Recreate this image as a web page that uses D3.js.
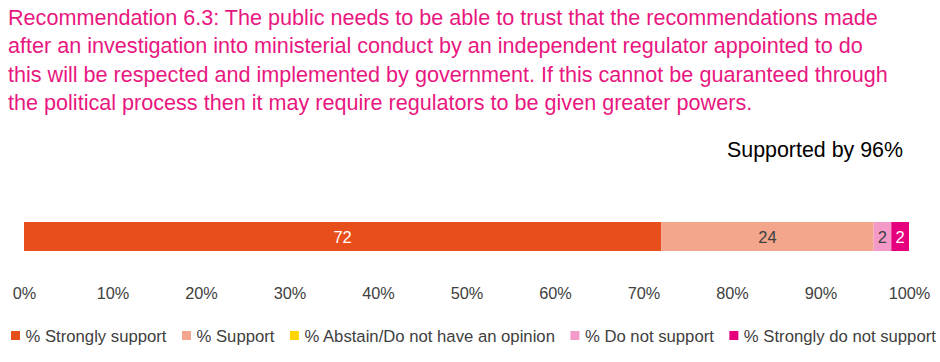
<!DOCTYPE html>
<html><head><meta charset="utf-8">
<script src="https://cdn.jsdelivr.net/npm/d3@7"></script>
<style>body{margin:0;background:#fff}svg{display:block;font-family:"Liberation Sans",Arial,sans-serif}</style>
</head><body><svg id="c" width="940" height="362"></svg>
<script>
const titleLines = [
  "Recommendation 6.3: The public needs to be able to trust that the recommendations made",
  "after an investigation into ministerial conduct by an independent regulator appointed to do",
  "this will be respected and implemented by government. If this cannot be guaranteed through",
  "the political process then it may require regulators to be given greater powers."
];
const subtitle = "Supported by 96%";
const categories = ["% Strongly support","% Support","% Abstain/Do not have an opinion","% Do not support","% Strongly do not support"];
const values = [72, 24, 0, 2, 2];
const colors = ["#E84E1B","#F3A68C","#FFD500","#F49AC8","#E6007E"];
const labelColors = ["#ffffff","#404040","#404040","#404040","#ffffff"];
const ticks = [0,10,20,30,40,50,60,70,80,90,100];

const svg = d3.select("#c");
svg.append("g").selectAll("text").data(titleLines).join("text")
  .attr("x", 8).attr("y", (d,i)=>25 + i*28.4)
  .attr("fill","#E8177F").attr("font-size",21.6).text(d=>d);
svg.append("text").attr("x",903).attr("y",157).attr("text-anchor","end")
  .attr("font-size",21.4).attr("fill","#000").text(subtitle);

const x = d3.scaleLinear().domain([0,100]).range([24,909]);
const y = d3.scaleBand().domain(["r"]).range([222,251]).padding(0);
let cum = 0;
const segs = values.map((v,i)=>{const s={v,i,x0:cum,x1:cum+v}; cum+=v; return s;});
const g = svg.append("g");
g.selectAll("rect").data(segs.filter(d=>d.v>0)).join("rect")
  .attr("x",d=>x(d.x0)).attr("width",d=>x(d.x1)-x(d.x0))
  .attr("y",y("r")).attr("height",y.bandwidth())
  .attr("fill",d=>colors[d.i]);
g.selectAll("text").data(segs.filter(d=>d.v>0)).join("text")
  .attr("x",d=>(x(d.x0)+x(d.x1))/2).attr("y",y("r")+y.bandwidth()/2+6)
  .attr("text-anchor","middle").attr("font-size",16.5)
  .attr("fill",d=>labelColors[d.i]).text(d=>d.v);

const axis = d3.axisBottom(x).tickValues(ticks).tickFormat(d=>d+"%").tickSize(0).tickPadding(0);
const ax = svg.append("g").attr("transform","translate(0,299)").call(axis);
ax.select(".domain").remove();
ax.selectAll("text").attr("font-size",16.3).attr("fill","#404040").attr("dy",0)
  .attr("font-family","Liberation Sans, Arial, sans-serif");

const lg = svg.append("g");
let lx = 11;
categories.forEach((c,i)=>{
  lg.append("rect").attr("x",lx).attr("y",331).attr("width",9).attr("height",9).attr("fill",colors[i]);
  const t = lg.append("text").attr("x",lx+14.5).attr("y",342).attr("font-size",16.7).attr("fill","#404040").text(c);
  lx += 14.5 + t.node().getComputedTextLength() + 15.5;
});
</script></body></html>
